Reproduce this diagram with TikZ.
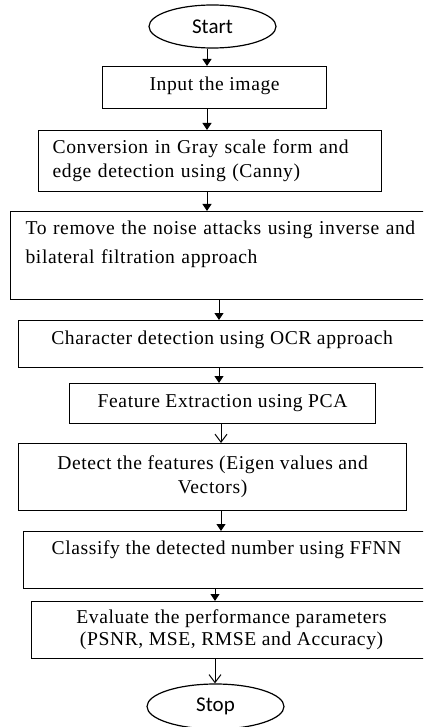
\documentclass[tikz,border=0pt]{standalone}
\usepackage{fontspec}
\setmainfont{Liberation Serif}[LetterSpace=3]
\newfontfamily\capfont{Carlito}
\usepackage{tikz}
\usetikzlibrary{arrows.meta,shapes.geometric}
\newcommand{\gap}[1]{\rule[-#1]{0pt}{#1}}

\begin{document}
\begin{tikzpicture}[x=0.5pt,y=-0.5pt,
  box/.style={draw,line width=0.6pt,anchor=north west,inner xsep=0pt,inner ysep=0pt,
    font=\fontsize{9.8}{12}\selectfont},
  term/.style={draw,ellipse,line width=0.6pt,inner sep=0pt,font=\capfont\fontsize{10.5}{12}\selectfont},
  fa/.style={line width=0.5pt,-{Triangle[length=3.5pt,width=4.5pt]}},
  oa/.style={line width=0.5pt,-{Straight Barb[length=4pt,width=6pt]}}]
  \useasboundingbox[clip] (0,0) rectangle (423,727);
  \node[term,minimum width=63.5pt,minimum height=21.5pt] (start) at (212.5,26.5) {Start};
  \node[box,minimum width=112pt,minimum height=21pt] (in) at (102,66) {Input the image\gap{4pt}};
  \node[box,minimum width=171.5pt,minimum height=30.5pt,text width=157.5pt,align=left,inner xsep=7pt] (conv) at (38,130)
    {Conversion in Gray scale form and\\edge detection using (Canny)};
  \node[box,minimum width=215pt,minimum height=44pt,text width=200pt,align=left,inner xsep=7.5pt,
    font=\fontsize{9.8}{14.5}\selectfont] (noise) at (10,211)
    {To remove the noise attacks using inverse and\\bilateral filtration approach\gap{13.5pt}};
  \node[box,minimum width=203.5pt,minimum height=23.5pt] (ocr) at (18,320) {Character detection using OCR approach\gap{6.5pt}};
  \node[box,minimum width=153pt,minimum height=20pt] (pca) at (69,383) {Feature Extraction using PCA\gap{3pt}};
  \node[box,minimum width=194pt,minimum height=33.5pt,align=center] (eig) at (18,443)
    {Detect the features (Eigen values and\\Vectors)};
  \node[box,minimum width=203pt,minimum height=28.5pt] (ffnn) at (23,531) {Classify the detected number using FFNN\gap{12.5pt}};
  \node[box,minimum width=200pt,minimum height=28.5pt,align=center,font=\fontsize{9.8}{11}\selectfont] (eval) at (31,601)
    {Evaluate the performance parameters\\(PSNR, MSE, RMSE and Accuracy)};
  \node[term,minimum width=68.5pt,minimum height=22.5pt] (stop) at (215.5,706.5) {Stop};
  % connectors
  \draw[fa] (start.south -| 207,0) -- (in.north -| 207,0);
  \draw[fa] (in.south -| 207,0) -- (conv.north -| 207,0);
  \draw[fa] (conv.south -| 207,0) -- (noise.north -| 207,0);
  \draw[fa] (noise.south -| 219,0) -- (ocr.north -| 219,0);
  \draw[fa] (ocr.south -| 219,0) -- (pca.north -| 219,0);
  \draw[oa] (pca.south -| 221,0) -- (eig.north -| 221,0);
  \draw[fa] (eig.south -| 221,0) -- (ffnn.north -| 221,0);
  \draw[fa] (ffnn.south -| 215,0) -- (eval.north -| 215,0);
  \draw[oa] (eval.south -| 215,0) -- (stop.north -| 215,0);
\end{tikzpicture}
\end{document}
